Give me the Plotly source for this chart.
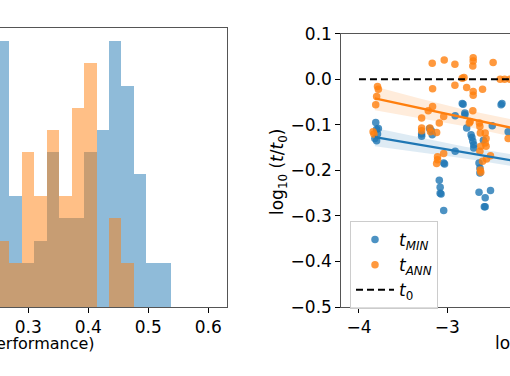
import plotly.graph_objects as go

# ---------------- data ----------------
# Left panel: histogram bins (left edges) and counts
bin_left = [0.2475, 0.2683, 0.2891, 0.3098, 0.3306, 0.3514, 0.3722, 0.3929,
            0.4137, 0.4345, 0.4553, 0.4760, 0.4968, 0.5176]
bin_width = 0.0208
hist_blue = [12, 5, 2, 3, 7, 4, 4, 7, 8, 12, 10, 6, 2, 2]
hist_orange = [3, 2, 7, 5, 8, 5, 9, 11, 0, 4, 2, 0, 0, 0]

# Right panel: scatter points
min_x = [-3.81, -3.80, -3.79, -3.82, -3.80, -3.78,
         -3.29, -3.29, -3.20, -3.18, -3.17,
         -3.09, -3.08, -3.08, -3.07, -3.04, -3.03, -3.04,
         -2.91, -2.91, -2.83, -2.82, -2.80, -2.80, -2.78,
         -2.73, -2.72, -2.71, -2.70, -2.70,
         -2.64, -2.63, -2.63, -2.64, -2.57, -2.58, -2.57,
         -2.51, -2.59, -2.49, -2.39, -2.38, -2.31]
min_y = [-0.095, -0.110, -0.120, -0.130, -0.135, -0.108,
         -0.120, -0.125, -0.108, -0.113, -0.122,
         -0.222, -0.237, -0.250, -0.252, -0.184, -0.186, -0.288,
         -0.158, -0.080, -0.053, -0.055, -0.074, -0.078, -0.107,
         -0.122, -0.128, -0.136, -0.144, -0.151,
         -0.184, -0.195, -0.206, -0.248, -0.260, -0.280, -0.280,
         -0.244, -0.134, -0.102, -0.056, -0.053, -0.115]

ann_x = [-3.79, -3.78, -3.80, -3.81, -3.84, -3.83,
         -3.29, -3.29, -3.29, -3.215, -3.166, -3.166, -3.17,
         -3.196, -3.19, -3.12, -3.09, -3.11, -3.11, -3.12,
         -3.04, -3.04, -3.034, -2.913, -2.913,
         -2.83, -2.81, -2.78,
         -2.706, -2.706, -2.71, -2.706, -2.706, -2.71,
         -2.60, -2.48, -2.74, -2.75,
         -2.635, -2.63, -2.625, -2.62, -2.63,
         -2.57, -2.56, -2.57, -2.56,
         -2.51, -2.555, -2.60, -2.625, -2.62,
         -2.40, -2.35, -2.29, -2.31]
ann_y = [-0.016, -0.022, -0.038, -0.056, -0.115, -0.120,
         -0.085, -0.107, -0.113, -0.069, -0.060, -0.021, 0.035,
         -0.107, -0.115, -0.117, -0.096, -0.170, -0.177, -0.185,
         -0.163, -0.082, 0.042, 0.033, -0.013,
         0.002, 0.004, -0.018,
         0.047, 0.040, 0.029, -0.027, -0.035, -0.069,
         -0.022, 0.037, -0.093, -0.096,
         -0.096, -0.104, -0.118, -0.147, -0.158,
         -0.118, -0.130, -0.140, -0.147,
         -0.168, -0.175, -0.180, -0.199, -0.204,
         0.000, 0.000, 0.000, -0.130]

# Regression fits and confidence bands
fit_x = [-3.82, -3.30, -2.80, -2.29, -2.00]
fit_min_y = [-0.127, -0.144, -0.161, -0.177, -0.187]
fit_min_lo = [-0.147, -0.160, -0.174, -0.190, -0.201]
fit_min_hi = [-0.107, -0.128, -0.148, -0.164, -0.173]
fit_ann_y = [-0.042, -0.064, -0.085, -0.107, -0.118]
fit_ann_lo = [-0.068, -0.085, -0.103, -0.125, -0.137]
fit_ann_hi = [-0.016, -0.043, -0.067, -0.089, -0.099]

t0_x = [-4.0, -1.0]
t0_y = [0.0, 0.0]

left_xticks = [0.3, 0.4, 0.5, 0.6]
right_xticks = [-4, -3]
right_yticks = [-0.5, -0.4, -0.3, -0.2, -0.1, 0.0, 0.1]

# ---------------- style ----------------
BLUE = "#1f77b4"
ORANGE = "#ff7f0e"
FONT = "DejaVu Sans"
FS = 17
W, H = 510, 376
AXC = "#555555"

def px(x):
    return x / W

def py(y):
    return 1 - y / H

fig = go.Figure()

# histogram
fig.add_trace(go.Bar(x=bin_left, y=hist_blue, width=bin_width, offset=0,
                     marker=dict(color=BLUE, opacity=0.5, line=dict(width=0)),
                     xaxis="x", yaxis="y", showlegend=False))
fig.add_trace(go.Bar(x=bin_left, y=hist_orange, width=bin_width, offset=0,
                     marker=dict(color=ORANGE, opacity=0.5, line=dict(width=0)),
                     xaxis="x", yaxis="y", showlegend=False))

# confidence bands
for lo, hi, col in [(fit_min_lo, fit_min_hi, "rgba(31,119,180,0.15)"),
                    (fit_ann_lo, fit_ann_hi, "rgba(255,127,14,0.15)")]:
    fig.add_trace(go.Scatter(x=fit_x, y=lo, mode="lines", line=dict(width=0),
                             xaxis="x2", yaxis="y2", showlegend=False, hoverinfo="skip"))
    fig.add_trace(go.Scatter(x=fit_x, y=hi, mode="lines", line=dict(width=0),
                             fill="tonexty", fillcolor=col,
                             xaxis="x2", yaxis="y2", showlegend=False, hoverinfo="skip"))

# scatter
fig.add_trace(go.Scatter(x=min_x, y=min_y, mode="markers",
                         marker=dict(color=BLUE, size=7.5, opacity=0.8),
                         name="<i>t</i><sub><i>MIN</i></sub>",
                         xaxis="x2", yaxis="y2"))
fig.add_trace(go.Scatter(x=ann_x, y=ann_y, mode="markers",
                         marker=dict(color=ORANGE, size=7.5, opacity=0.8),
                         name="<i>t</i><sub><i>ANN</i></sub>",
                         xaxis="x2", yaxis="y2"))

# fit lines
fig.add_trace(go.Scatter(x=fit_x, y=fit_min_y, mode="lines",
                         line=dict(color=BLUE, width=2.3),
                         xaxis="x2", yaxis="y2", showlegend=False))
fig.add_trace(go.Scatter(x=fit_x, y=fit_ann_y, mode="lines",
                         line=dict(color=ORANGE, width=2.3),
                         xaxis="x2", yaxis="y2", showlegend=False))

# t0 line
fig.add_trace(go.Scatter(x=t0_x, y=t0_y, mode="lines",
                         line=dict(color="black", width=2, dash="7px,4px"),
                         name="<i>t</i><sub>0</sub>",
                         xaxis="x2", yaxis="y2"))

tickfont = dict(family=FONT, size=FS, color="black")

fig.update_layout(
    width=W, height=H,
    margin=dict(l=0, r=0, t=0, b=0, autoexpand=False),
    paper_bgcolor="white", plot_bgcolor="white",
    barmode="overlay", bargap=0,
    font=dict(family=FONT, size=FS, color="black"),
    xaxis=dict(domain=[0, px(227)], range=[0.2528, 0.6312],
               tickvals=left_xticks, ticktext=[f"{v:.1f}" for v in left_xticks],
               ticks="outside", ticklen=5, tickwidth=1, tickcolor="black",
               tickfont=tickfont, showline=True, linecolor=AXC, linewidth=1,
               mirror=True, showgrid=False, zeroline=False, anchor="y",
               automargin=False),
    yaxis=dict(domain=[py(307), py(28)], range=[0, 12.6], side="right",
               showticklabels=False, ticks="", showline=True, linecolor=AXC,
               linewidth=1, showgrid=False, zeroline=False, anchor="x",
               automargin=False),
    xaxis2=dict(domain=[px(341.3), 1.0], range=[-4.2, -2.289],
                tickvals=right_xticks, ticktext=["−4", "−3"],
                ticks="outside", ticklen=5, tickwidth=1, tickcolor="black",
                tickfont=tickfont, showline=True, linecolor=AXC, linewidth=1,
                mirror=True, showgrid=False, zeroline=False, anchor="y2",
                automargin=False),
    yaxis2=dict(domain=[py(307), py(33.7)], range=[-0.5, 0.1],
                tickvals=right_yticks,
                ticktext=[("−" if v < 0 else "") + f"{abs(v):.1f}" for v in right_yticks],
                ticks="outside", ticklen=5, tickwidth=1, tickcolor="black",
                tickfont=tickfont, showline=True, linecolor=AXC, linewidth=1,
                showgrid=False, zeroline=False, anchor="x2", automargin=False),
    legend=dict(x=px(350), y=py(221), xanchor="left", yanchor="top",
                bgcolor="rgba(255,255,255,0.8)", bordercolor="#cccccc",
                borderwidth=1, font=dict(family=FONT, size=FS, color="black"),
                tracegroupgap=0, itemwidth=38, traceorder="normal"),
    showlegend=True,
    annotations=[
        dict(text="erformance)", x=px(97), y=py(343), xref="paper", yref="paper",
             xanchor="right", yanchor="middle", showarrow=False,
             font=dict(family=FONT, size=16, color="black")),
        dict(text="log", x=px(493), y=py(343),
             xref="paper", yref="paper", xanchor="left", yanchor="middle",
             showarrow=False, font=dict(family=FONT, size=FS, color="black")),
        dict(text="log<sub>10</sub> (<i>t</i>/<i>t</i><sub>0</sub>)", x=px(279), y=py(172),
             xref="paper", yref="paper", xanchor="center", yanchor="middle",
             textangle=-90, showarrow=False,
             font=dict(family=FONT, size=FS, color="black")),
    ],
)

fig.write_html("out.html",
               config={"displayModeBar": False},
               post_script="document.body.style.margin='0';"
                           "document.body.style.overflow='hidden';")
